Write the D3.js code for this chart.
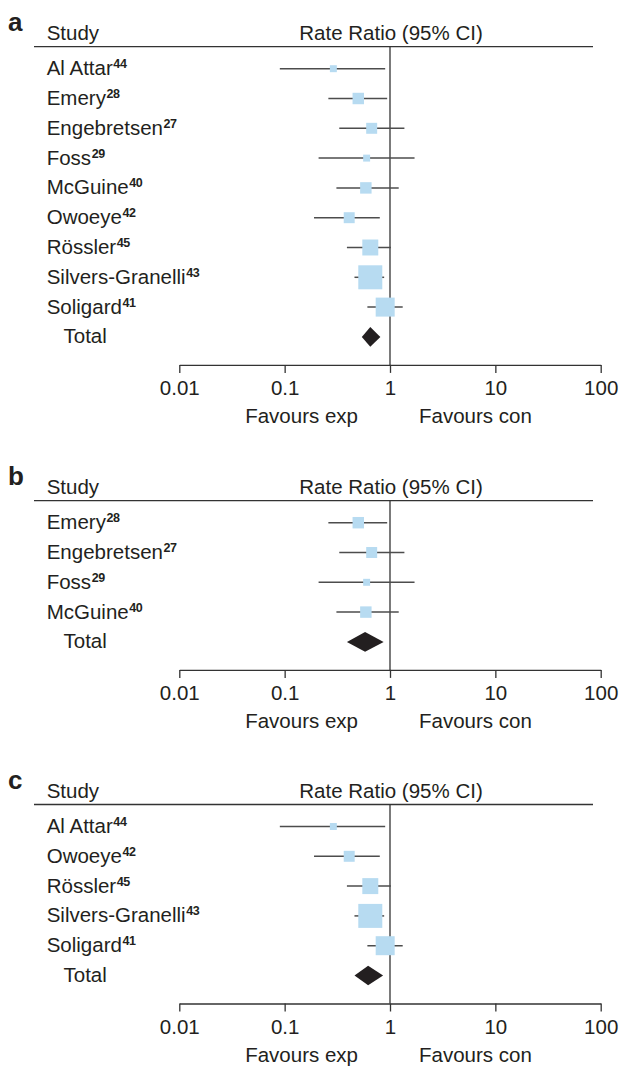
<!DOCTYPE html>
<html>
<head>
<meta charset="utf-8">
<script src="https://cdn.jsdelivr.net/npm/d3@7"></script>
<style>
  html, body { margin: 0; padding: 0; background: #fff; }
  svg { display: block; }
  text { font-family: "Liberation Sans", Arial, Helvetica, sans-serif; fill: #231f20; }
</style>
</head>
<body>
<svg id="chart" width="619" height="1066"></svg>
<script>
// ---------------- data ----------------
const studies = ["Al Attar", "Emery", "Engebretsen", "Foss", "McGuine", "Owoeye", "Rössler", "Silvers-Granelli", "Soligard"];
const refs = ["44", "28", "27", "29", "40", "42", "45", "43", "41"];
const rateRatio = [0.29, 0.50, 0.67, 0.60, 0.59, 0.41, 0.65, 0.65, 0.90];
const ciLow = [0.09, 0.26, 0.33, 0.21, 0.31, 0.19, 0.39, 0.46, 0.61];
const ciHigh = [0.90, 0.94, 1.37, 1.71, 1.21, 0.80, 1.02, 0.88, 1.32];
const weights = [2.7, 7.3, 6.7, 2.7, 7.3, 6.7, 14.2, 32.1, 20.1];

const panelLetters = ["a", "b", "c"];
const panelStudies = [
  ["Al Attar", "Emery", "Engebretsen", "Foss", "McGuine", "Owoeye", "Rössler", "Silvers-Granelli", "Soligard"],
  ["Emery", "Engebretsen", "Foss", "McGuine"],
  ["Al Attar", "Owoeye", "Rössler", "Silvers-Granelli", "Soligard"]
];
const totalRR = [0.65, 0.58, 0.62];
const totalLow = [0.54, 0.39, 0.46];
const totalHigh = [0.81, 0.87, 0.86];

const tickValues = [0.01, 0.1, 1, 10, 100];
const tickLabels = ["0.01", "0.1", "1", "10", "100"];
const headerStudy = "Study";
const headerEffect = "Rate Ratio (95% CI)";
const totalLabel = "Total";
const favoursLeft = "Favours exp";
const favoursRight = "Favours con";

// ---------------- layout ----------------
const svg = d3.select("#chart");
const x = d3.scaleLog().domain([0.01, 100]).range([179.3, 600.7]);
const size = d3.scaleSqrt().domain([0, d3.max(weights)]).range([0, 24]);
const headerYs = [46.7, 500.7, 804.5];
const rowStep = 29.8;
const firstRowGap = 22;
const axisGap = 28;
const fs = 20.5;

const inkLine = "#333";
const ciColor = "#4d4d4d";
const boxColor = "#b7dbf1";

panelLetters.forEach((letter, p) => {
  const hy = headerYs[p];
  const g = svg.append("g");
  const names = panelStudies[p];
  const rows = names.map((n, i) => {
    const k = studies.indexOf(n);
    return { name: n, ref: refs[k], rr: rateRatio[k], lo: ciLow[k], hi: ciHigh[k], w: weights[k], y: hy + firstRowGap + i * rowStep };
  });
  const totalY = hy + firstRowGap + names.length * rowStep;
  const axisY = totalY + axisGap;

  // panel letter
  g.append("text").attr("x", 8).attr("y", hy - 16)
    .style("font-size", "26px").style("font-weight", "bold").text(letter);

  // headers
  g.append("text").attr("x", 46.7).attr("y", hy - 7).style("font-size", fs + "px").text(headerStudy);
  g.append("text").attr("x", x(1) + 1).attr("y", hy - 7).attr("text-anchor", "middle")
    .style("font-size", fs + "px").text(headerEffect);

  // header rule
  g.append("line").attr("x1", 34).attr("x2", 593).attr("y1", hy).attr("y2", hy)
    .attr("stroke", inkLine).attr("stroke-width", 1.3);

  // reference line at 1
  g.append("line").attr("x1", x(1)).attr("x2", x(1)).attr("y1", hy).attr("y2", axisY)
    .attr("stroke", inkLine).attr("stroke-width", 1.3);

  // study labels
  const lab = g.selectAll("text.study").data(rows).enter().append("text")
    .attr("class", "study").attr("x", 46.7).attr("y", d => d.y + 6.5)
    .style("font-size", fs + "px");
  lab.append("tspan").text(d => d.name);
  lab.append("tspan").attr("dy", -7).attr("dx", 0.5)
    .style("font-size", "12.5px").style("font-weight", "bold").style("letter-spacing", "-0.3px")
    .text(d => d.ref);

  // CI lines
  g.selectAll("line.ci").data(rows).enter().append("line")
    .attr("class", "ci")
    .attr("x1", d => x(d.lo)).attr("x2", d => x(d.hi))
    .attr("y1", d => d.y).attr("y2", d => d.y)
    .attr("stroke", ciColor).attr("stroke-width", 1.5);

  // boxes
  g.selectAll("rect.box").data(rows).enter().append("rect")
    .attr("class", "box")
    .attr("x", d => x(d.rr) - size(d.w) / 2)
    .attr("y", d => d.y - size(d.w) / 2)
    .attr("width", d => size(d.w)).attr("height", d => size(d.w))
    .attr("fill", boxColor);

  // total
  g.append("text").attr("x", 63.5).attr("y", totalY + 6.5).style("font-size", fs + "px").text(totalLabel);
  const dh = 9.8;
  g.append("path")
    .attr("d", `M${x(totalLow[p])},${totalY} L${x(totalRR[p])},${totalY - dh} L${x(totalHigh[p])},${totalY} L${x(totalRR[p])},${totalY + dh} Z`)
    .attr("fill", "#231f20");

  // axis
  const axis = d3.axisBottom(x).tickValues(tickValues)
    .tickFormat((d, i) => tickLabels[i]).tickSize(8).tickSizeOuter(0).tickPadding(8);
  const ag = g.append("g").attr("transform", `translate(0,${axisY})`).call(axis);
  ag.select(".domain").attr("stroke", inkLine).attr("stroke-width", 1.3);
  ag.selectAll(".tick line").attr("stroke", inkLine).attr("stroke-width", 1.3);
  ag.selectAll(".tick text").style("font-size", fs + "px")
    .style("font-family", "'Liberation Sans', Arial, sans-serif").attr("fill", "#231f20");

  // favours
  g.append("text").attr("x", x(1) - 32).attr("y", axisY + 58.5).attr("text-anchor", "end")
    .style("font-size", fs + "px").text(favoursLeft);
  g.append("text").attr("x", x(1) + 29).attr("y", axisY + 58.5).attr("text-anchor", "start")
    .style("font-size", fs + "px").text(favoursRight);
});
</script>
</body>
</html>
